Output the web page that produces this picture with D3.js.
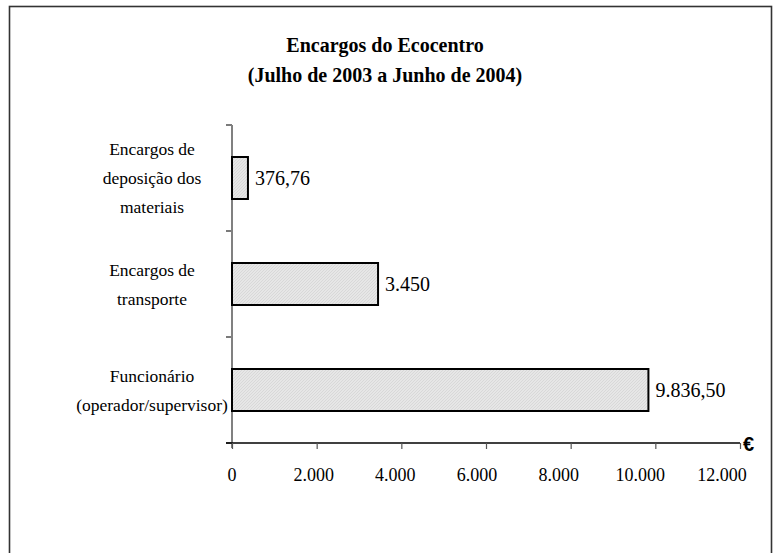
<!DOCTYPE html>
<html>
<head>
<meta charset="utf-8">
<script src="https://cdn.jsdelivr.net/npm/d3@7"></script>
<style>
  body { margin: 0; background: #fff; }
  svg { display: block; }
</style>
</head>
<body>
<div id="chart"></div>
<script>
// data
var categories = [
  ["Encargos de", "deposição dos", "materiais"],
  ["Encargos de", "transporte"],
  ["Funcionário", "(operador/supervisor)"]
];
var values = [376.76, 3450, 9836.5];
var valueLabels = ["376,76", "3.450", "9.836,50"];
var tickValues = [0, 2000, 4000, 6000, 8000, 10000, 12000];
var tickLabels = ["0", "2.000", "4.000", "6.000", "8.000", "10.000", "12.000"];

var W = 775, H = 553;
// plot area (note: "top" is reserved by window, so use plot* names)
var plotLeft = 232, plotRight = 740, plotTop = 125, plotBottom = 443;

var svg = d3.select("#chart").append("svg")
  .attr("width", W).attr("height", H);

// hatch pattern for bars
var pat = svg.append("defs").append("pattern")
  .attr("id", "hatch").attr("patternUnits", "userSpaceOnUse")
  .attr("width", 3).attr("height", 3);
pat.append("rect").attr("width", 3).attr("height", 3).attr("fill", "#e6e6e6");
pat.append("path").attr("d", "M0,3 L3,0").attr("stroke", "#d2d2d2").attr("stroke-width", 0.7);

// outer frame
svg.append("rect")
  .attr("x", 9.5).attr("y", 6.5)
  .attr("width", 762).attr("height", 560)
  .attr("fill", "none").attr("stroke", "#333").attr("stroke-width", 1.6);

// title
svg.append("text").attr("x", 385).attr("y", 52)
  .attr("text-anchor", "middle")
  .style("font", "bold 20px 'Liberation Serif', 'Times New Roman', serif")
  .text("Encargos do Ecocentro");
svg.append("text").attr("x", 385).attr("y", 82)
  .attr("text-anchor", "middle")
  .style("font", "bold 20px 'Liberation Serif', 'Times New Roman', serif")
  .text("(Julho de 2003 a Junho de 2004)");

// scales
var x = d3.scaleLinear().domain([0, 12000]).range([plotLeft, plotRight]);
var xLab = x.copy().range([plotLeft, 722]);
var yBand = d3.scaleBand().domain(d3.range(categories.length)).range([plotTop, plotBottom]);

// y axis ticks (band boundaries)
var yTicks = d3.range(categories.length + 1).map(function(i) { return plotTop + i * yBand.step(); });
svg.selectAll(".ytick").data(yTicks).enter().append("line")
  .attr("x1", plotLeft - 6).attr("x2", plotLeft)
  .attr("y1", function(d) { return d; }).attr("y2", function(d) { return d; })
  .attr("stroke", "#222").attr("stroke-width", 1.2);
svg.append("line")
  .attr("x1", plotLeft).attr("x2", plotLeft).attr("y1", plotTop).attr("y2", plotBottom + 5)
  .attr("stroke", "#808080").attr("stroke-width", 2);

// x axis
var xAxis = d3.axisBottom(x).tickValues(tickValues).tickSize(6).tickFormat("");
var gx = svg.append("g").attr("transform", "translate(0," + plotBottom + ")").call(xAxis);
gx.select(".domain").attr("stroke", "#000").attr("stroke-width", 1.5)
  .attr("d", "M" + (plotLeft - 6) + ",0H" + plotRight);
gx.selectAll(".tick line").attr("stroke", "#555").attr("stroke-width", 1.2);

svg.selectAll(".xlab").data(tickValues).enter().append("text")
  .attr("x", function(d) { return xLab(d); }).attr("y", 481)
  .attr("text-anchor", "middle")
  .style("font", "18px 'Liberation Serif', 'Times New Roman', serif")
  .text(function(d, i) { return tickLabels[i]; });

// euro sign
svg.append("text").attr("x", 743).attr("y", 451)
  .style("font", "bold 20px 'Liberation Sans', Arial, sans-serif")
  .text("€");

// bars
svg.selectAll(".bar").data(values).enter().append("rect")
  .attr("x", x(0))
  .attr("y", function(d, i) { return yBand(i) + yBand.bandwidth() / 2 - 21; })
  .attr("width", function(d) { return x(d) - x(0); })
  .attr("height", 42)
  .attr("fill", "url(#hatch)").attr("stroke", "#000").attr("stroke-width", 2);

// value labels
svg.selectAll(".val").data(values).enter().append("text")
  .attr("x", function(d) { return x(d) + 7; })
  .attr("y", function(d, i) { return yBand(i) + yBand.bandwidth() / 2 + 7; })
  .style("font", "20px 'Liberation Serif', 'Times New Roman', serif")
  .text(function(d, i) { return valueLabels[i]; });

// category labels
categories.forEach(function(lines, i) {
  var cy = yBand(i) + yBand.bandwidth() / 2;
  var t = svg.append("text").attr("text-anchor", "middle")
    .style("font", "17.5px 'Liberation Serif', 'Times New Roman', serif");
  lines.forEach(function(s, j) {
    t.append("tspan").attr("x", 152)
      .attr("y", cy + 6 + (j - (lines.length - 1) / 2) * 29)
      .text(s);
  });
});
</script>
</body>
</html>
